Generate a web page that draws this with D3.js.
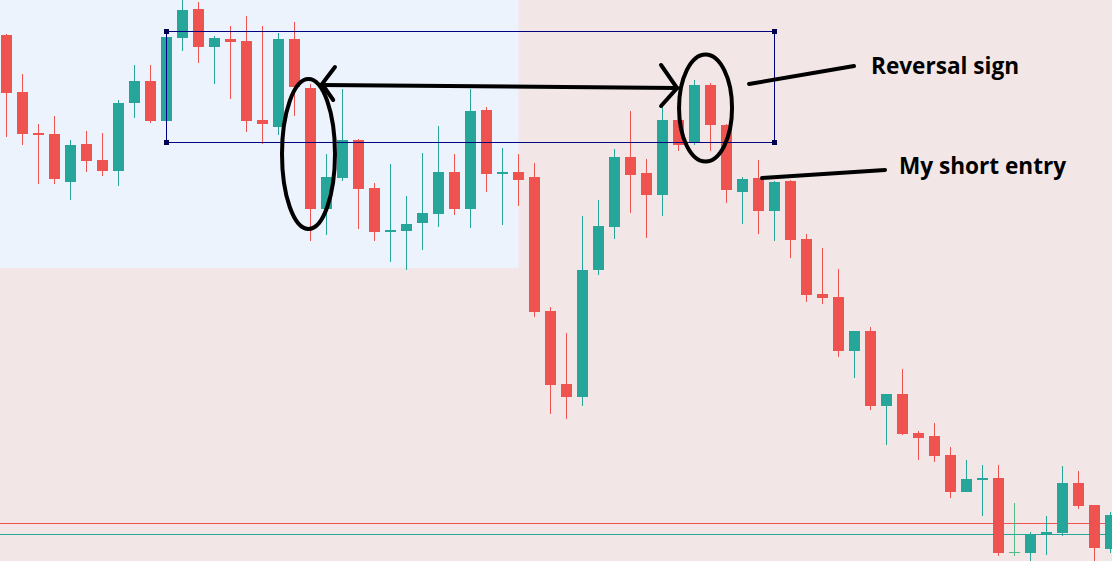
<!DOCTYPE html>
<html>
<head>
<meta charset="utf-8">
<script src="https://cdn.jsdelivr.net/npm/d3@7"></script>
<style>
  html, body { margin: 0; padding: 0; background: #f2e6e6; overflow: hidden; }
  svg { display: block; }
  .note text {
    font-family: "Open Sans", "Noto Sans", sans-serif;
    font-weight: bold;
    font-size: 22.6px;
    fill: #000;
  }
</style>
</head>
<body>
<div id="chart"></div>
<script>
// candles, oldest first (prices, no axis shown)
var open = [1.1526,1.1469,1.1428,1.1427,1.1379,1.1417,1.1401,1.1390,1.1458,1.1480,
  1.1440,1.1523,1.1552,1.1514,1.1522,1.1520,1.1441,1.1434,1.1522,1.1473,
  1.1352,1.1383,1.1421,1.1373,1.1329,1.1330,1.1338,1.1347,1.1389,1.1352,
  1.1451,1.1387,1.1389,1.1384,1.1250,1.1177,1.1164,1.1291,1.1334,1.1404,
  1.1388,1.1366,1.1441,1.1418,1.1476,1.1436,1.1369,1.1383,1.1350,1.1380,
  1.1322,1.1267,1.1264,1.1210,1.1230,1.1155,1.1167,1.1128,1.1125,1.1106,
  1.1069,1.1081,1.1083,1.1008,1.1008,1.1027,1.1028,1.1078,1.1056,1.1012];
var high = [1.1527,1.1487,1.1437,1.1445,1.1421,1.1430,1.1428,1.1461,1.1496,1.1496,
  1.1524,1.1564,1.1559,1.1525,1.1535,1.1545,1.1535,1.1528,1.1539,1.1477,
  1.1407,1.1472,1.1422,1.1378,1.1397,1.1365,1.1408,1.1435,1.1407,1.1472,
  1.1454,1.1413,1.1407,1.1398,1.1254,1.1228,1.1345,1.1361,1.1412,1.1450,
  1.1402,1.1454,1.1459,1.1481,1.1478,1.1437,1.1384,1.1401,1.1380,1.1381,
  1.1327,1.1313,1.1292,1.1230,1.1234,1.1167,1.1192,1.1130,1.1138,1.1114,
  1.1101,1.1096,1.1096,1.1058,1.1029,1.1045,1.1095,1.1090,1.1056,1.1049];
var low = [1.1424,1.1416,1.1377,1.1377,1.1361,1.1389,1.1385,1.1375,1.1443,1.1438,
  1.1440,1.1510,1.1498,1.1477,1.1462,1.1429,1.1417,1.1426,1.1445,1.1320,
  1.1326,1.1380,1.1332,1.1320,1.1299,1.1291,1.1311,1.1334,1.1346,1.1333,
  1.1369,1.1336,1.1355,1.1244,1.1147,1.1142,1.1155,1.1286,1.1322,1.1348,
  1.1323,1.1345,1.1410,1.1416,1.1410,1.1358,1.1337,1.1327,1.1320,1.1303,
  1.1259,1.1257,1.1204,1.1183,1.1151,1.1116,1.1126,1.1101,1.1099,1.1063,
  1.1069,1.1045,1.1005,1.1005,1.0997,1.1006,1.1025,1.1052,1.0995,1.1008];
var close = [1.1468,1.1427,1.1426,1.1382,1.1416,1.1400,1.1390,1.1458,1.1480,1.1440,
  1.1524,1.1551,1.1514,1.1523,1.1519,1.1440,1.1437,1.1522,1.1474,1.1352,
  1.1384,1.1421,1.1372,1.1329,1.1331,1.1337,1.1348,1.1389,1.1352,1.1450,
  1.1387,1.1389,1.1381,1.1249,1.1176,1.1164,1.1291,1.1335,1.1404,1.1386,
  1.1366,1.1441,1.1416,1.1476,1.1436,1.1371,1.1382,1.1350,1.1379,1.1321,
  1.1266,1.1263,1.1210,1.1230,1.1155,1.1167,1.1127,1.1123,1.1105,1.1069,
  1.1082,1.1083,1.1008,1.1009,1.1027,1.1029,1.1078,1.1055,1.1013,1.1046];
var lightBars = [63];

// horizontal price levels
var levelPrices = [1.1038, 1.1027];
var levelColors = ["#ef5350", "#26a69a"];

// shaded zone: [from bar, to bar], [top price, bottom price]
var zoneBars = [-1, 32];
var zonePrices = [1.1600, 1.1293];

// drawn box
var boxBars = [10, 48];
var boxPrices = [1.1530, 1.1419];

var width = 1112,
    height = 561,
    bodyWidth = 11;

var x = d3.scaleLinear().domain([0, 69]).range([6.5, 1110.5]);
var y = d3.scaleLinear().domain([1.1, 1.1561]).range([561, 0]);

var svg = d3.select("#chart").append("svg")
    .attr("width", width)
    .attr("height", height);

svg.append("rect")
    .attr("width", width)
    .attr("height", height)
    .attr("fill", "#f2e6e6");

svg.append("rect")
    .attr("x", 0)
    .attr("y", 0)
    .attr("width", x(zoneBars[1]))
    .attr("height", y(zonePrices[1]))
    .attr("fill", "#ecf3fd");

// levels
svg.selectAll("line.level")
    .data(levelPrices)
    .enter().append("line")
    .attr("class", "level")
    .attr("x1", 0)
    .attr("x2", width)
    .attr("y1", function(d) { return y(d) + 0.5; })
    .attr("y2", function(d) { return y(d) + 0.5; })
    .attr("stroke", function(d, i) { return levelColors[i]; })
    .attr("stroke-width", 1);

var bars = d3.range(open.length).map(function(i) {
  return { i: i, o: open[i], h: high[i], l: low[i], c: close[i] };
});

function barColor(d) {
  if (lightBars.indexOf(d.i) >= 0) return "#55bb8a";
  return d.c >= d.o ? "#26a69a" : "#ef5350";
}

var candles = svg.append("g")
    .attr("shape-rendering", "crispEdges");

candles.selectAll("rect.wick")
    .data(bars)
    .enter().append("rect")
    .attr("class", "wick")
    .attr("x", function(d) { return Math.floor(x(d.i)); })
    .attr("y", function(d) { return Math.round(y(d.h)); })
    .attr("width", 1)
    .attr("height", function(d) { return Math.max(1, Math.round(y(d.l)) - Math.round(y(d.h))); })
    .attr("fill", barColor);

candles.selectAll("rect.body")
    .data(bars)
    .enter().append("rect")
    .attr("class", "body")
    .attr("x", function(d) { return Math.round(x(d.i) - bodyWidth / 2); })
    .attr("y", function(d) { return Math.round(y(Math.max(d.o, d.c))); })
    .attr("width", bodyWidth)
    .attr("height", function(d) {
      return Math.max(1, Math.round(y(Math.min(d.o, d.c))) - Math.round(y(Math.max(d.o, d.c))));
    })
    .attr("fill", barColor);

// box with corner handles
var bx0 = Math.floor(x(boxBars[0])) + 0.5, bx1 = Math.floor(x(boxBars[1])) + 0.5,
    by0 = Math.round(y(boxPrices[0])) + 0.5, by1 = Math.round(y(boxPrices[1])) + 0.5;
svg.append("rect")
    .attr("x", bx0)
    .attr("y", by0)
    .attr("width", bx1 - bx0)
    .attr("height", by1 - by0)
    .attr("fill", "none")
    .attr("stroke", "#000080")
    .attr("stroke-width", 1);

svg.selectAll("rect.handle")
    .data([[bx0, by0], [bx0, by1], [bx1, by0], [bx1, by1]])
    .enter().append("rect")
    .attr("class", "handle")
    .attr("x", function(d) { return d[0] - 2.5; })
    .attr("y", function(d) { return d[1] - 2.5; })
    .attr("width", 5)
    .attr("height", 5)
    .attr("fill", "#000050");

// hand drawn notes, placed in bar / price units
var note = svg.append("g").attr("class", "note");
var line = d3.line()
    .x(function(d) { return x(d[0]); })
    .y(function(d) { return y(d[1]); });

var strokes = [
  [[19.72, 1.1476], [41.91, 1.1473]],
  [[20.53, 1.1494], [19.72, 1.1477], [20.42, 1.1461]],
  [[40.91, 1.1496], [41.91, 1.1473], [40.91, 1.1455]],
  [[46.41, 1.1477], [52.97, 1.1495]],
  [[47.22, 1.1383], [54.91, 1.1391]]
];
note.selectAll("path")
    .data(strokes)
    .enter().append("path")
    .attr("d", line)
    .attr("fill", "none")
    .attr("stroke", "#000")
    .attr("stroke-width", 4)
    .attr("stroke-linejoin", "miter")
    .attr("stroke-linecap", "round");

var rings = [
  { cx: 18.875, cy: 1.1407, rx: 26.5, ry: 0.0075 },
  { cx: 43.69, cy: 1.1453, rx: 26.5, ry: 0.00535 }
];
note.selectAll("ellipse")
    .data(rings)
    .enter().append("ellipse")
    .attr("cx", function(d) { return x(d.cx); })
    .attr("cy", function(d) { return y(d.cy); })
    .attr("rx", function(d) { return d.rx; })
    .attr("ry", function(d) { return y(d.cy - d.ry) - y(d.cy); })
    .attr("fill", "none")
    .attr("stroke", "#000")
    .attr("stroke-width", 4);

var labels = [
  { t: "Reversal sign", bar: 54.03, p: 1.1487 },
  { t: "My short entry", bar: 55.78, p: 1.1387 }
];
note.selectAll("text")
    .data(labels)
    .enter().append("text")
    .attr("x", function(d) { return x(d.bar); })
    .attr("y", function(d) { return y(d.p); })
    .text(function(d) { return d.t; });
</script>
</body>
</html>
